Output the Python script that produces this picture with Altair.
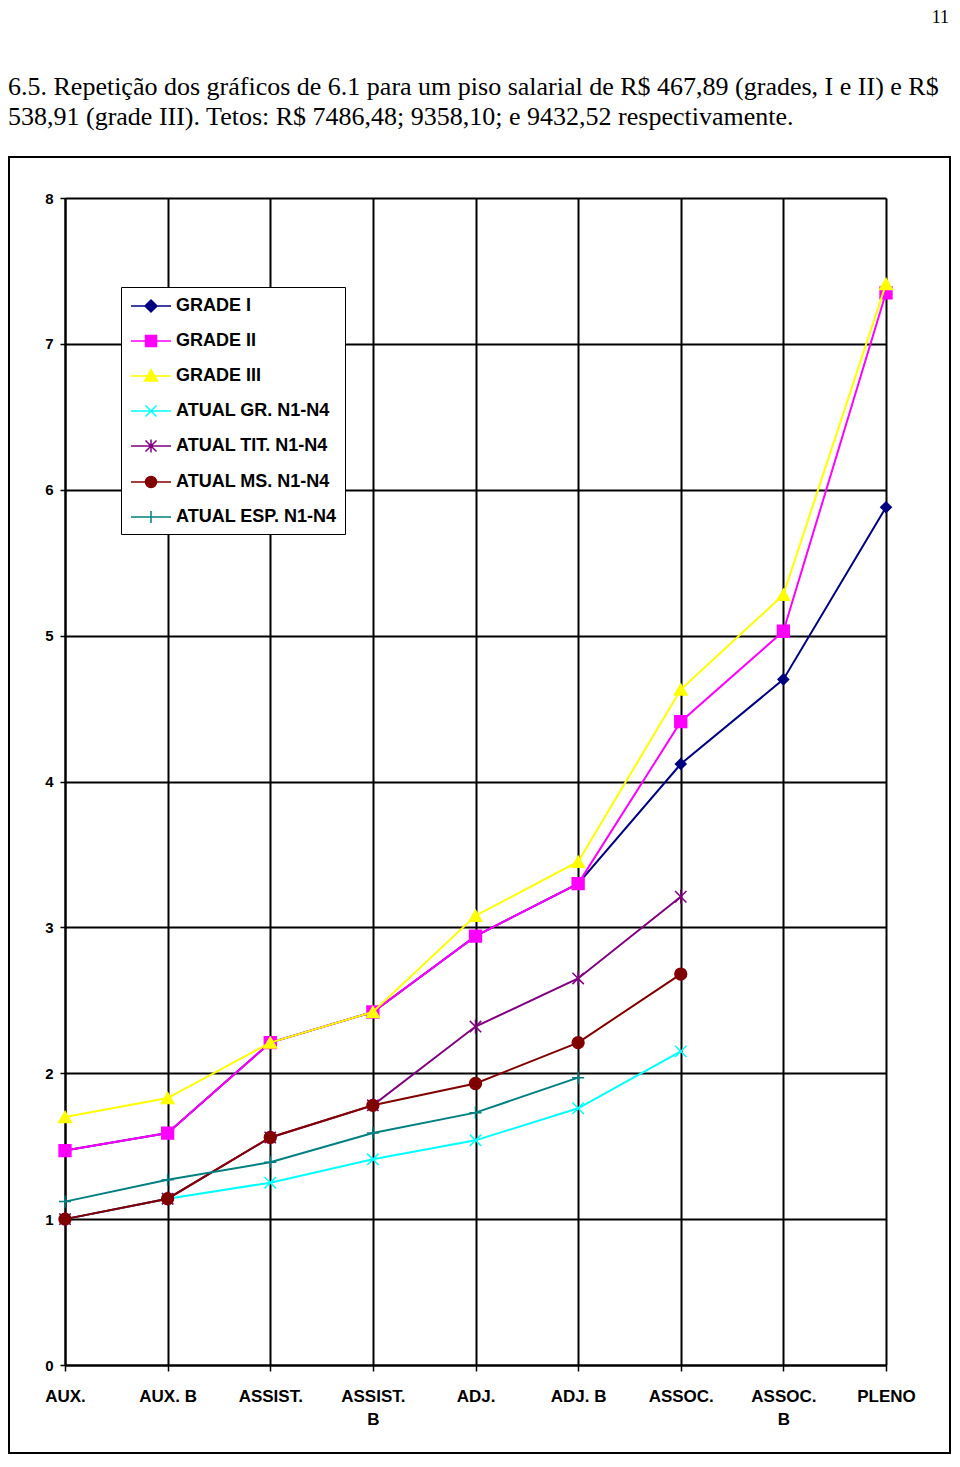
import altair as alt
import pandas as pd

categories = ["AUX.", "AUX. B", "ASSIST.", "ASSIST. B", "ADJ.", "ADJ. B",
              "ASSOC.", "ASSOC. B", "PLENO"]
series_names = ["GRADE I", "GRADE II", "GRADE III", "ATUAL GR. N1-N4",
                "ATUAL TIT. N1-N4", "ATUAL MS. N1-N4", "ATUAL ESP. N1-N4"]
grade_1 = [1.47, 1.59, 2.21, 2.42, 2.94, 3.30, 4.12, 4.70, 5.88]
grade_2 = [1.47, 1.59, 2.21, 2.42, 2.94, 3.30, 4.41, 5.03, 7.35]
grade_3 = [1.70, 1.83, 2.21, 2.42, 3.08, 3.45, 4.63, 5.28, 7.41]
atual_gr = [1.00, 1.14, 1.25, 1.41, 1.54, 1.76, 2.15, None, None]
atual_tit = [1.00, 1.14, 1.56, 1.78, 2.32, 2.65, 3.21, None, None]
atual_ms = [1.00, 1.14, 1.56, 1.78, 1.93, 2.21, 2.68, None, None]
atual_esp = [1.12, 1.27, 1.39, 1.59, 1.73, 1.97, None, None, None]
y_ticks = [0, 1, 2, 3, 4, 5, 6, 7, 8]

title_line1 = ("6.5. Repetição dos gráficos de 6.1 para um piso salarial de "
               "R$ 467,89 (grades, I e II) e R$")
title_line2 = ("538,91 (grade III). Tetos: R$ 7486,48; 9358,10; e 9432,52 "
               "respectivamente.")
page_number = "11"

colors = ["#000080", "#FF00FF", "#FFFF00", "#00FFFF", "#800080", "#800000", "#008080"]
all_series = [grade_1, grade_2, grade_3, atual_gr, atual_tit, atual_ms, atual_esp]

X_PATH = "M-1,-1L1,1M-1,1L1,-1"
STAR_PATH = "M-1,-1L1,1M-1,1L1,-1M0,-1.25L0,1.25"
PLUS_PATH = "M-1.1,0L1.1,0M0,-1.1L0,1.1"
point_shapes = ["diamond", "square", "triangle-up", X_PATH, STAR_PATH, "circle", PLUS_PATH]
point_sizes = [110, 140, 160, 130, 130, 140, 120]

LINE = "M-2,0L2,0"
legend_shapes = [
    LINE + "M0,-0.6L0.6,0L0,0.6L-0.6,0Z",
    LINE + "M-0.55,-0.55L0.55,-0.55L0.55,0.55L-0.55,0.55Z",
    LINE + "M0,-0.65L0.65,0.5L-0.65,0.5Z",
    LINE + "M-0.55,-0.55L0.55,0.55M-0.55,0.55L0.55,-0.55",
    LINE + "M-0.55,-0.55L0.55,0.55M-0.55,0.55L0.55,-0.55M0,-0.65L0,0.65",
    LINE + "M0.55,0A0.55,0.55 0 1,1 -0.55,0A0.55,0.55 0 1,1 0.55,0Z",
    LINE + "M0,-0.6L0,0.6",
]

rows = []
for name, vals in zip(series_names, all_series):
    for c, v in zip(categories, vals):
        if v is not None:
            rows.append({"cat": c, "val": v, "serie": name})
df = pd.DataFrame(rows)

FONT = "Liberation Sans"
label_expr = ("datum.label == 'ASSIST. B' ? ['ASSIST.', 'B'] : "
              "datum.label == 'ASSOC. B' ? ['ASSOC.', 'B'] : datum.label")

x_enc = alt.X("cat:N", sort=categories,
              scale=alt.Scale(type="point", padding=0, domain=categories),
              axis=alt.Axis(title=None, labelAngle=0, grid=True, gridColor="black",
                            gridWidth=2, gridOpacity=1, domainColor="black",
                            domainWidth=2, tickColor="black", tickSize=6,
                            tickWidth=1.5, labelFont=FONT, labelFontWeight="bold",
                            labelFontSize=17, labelColor="black", labelPadding=17,
                            labelLineHeight=23, labelExpr=label_expr))
y_enc = alt.Y("val:Q", scale=alt.Scale(domain=[0, 8], nice=False, zero=True),
              axis=alt.Axis(title=None, values=y_ticks, grid=True, gridColor="black",
                            gridWidth=2, gridOpacity=1, domainColor="black",
                            domainWidth=2, tickColor="black", tickSize=5,
                            tickWidth=1.5, labelFont=FONT, labelFontWeight="bold",
                            labelFontSize=15, labelColor="black", labelPadding=7,
                            format="d"))

layers = []
one = alt.Data(values=[{}])
frame = alt.Chart(one).mark_rect(fillOpacity=0, stroke="black", strokeWidth=2).encode(
    x=alt.value(-56), x2=alt.value(885), y=alt.value(-41), y2=alt.value(1255))
layers.append(frame)

for name, col, shp, sz in zip(series_names, colors, point_shapes, point_sizes):
    sub = df[df["serie"] == name]
    layers.append(alt.Chart(sub).mark_line(color=col, strokeWidth=2).encode(x=x_enc, y=y_enc))
    layers.append(alt.Chart(sub).mark_point(shape=shp, fill=col, stroke=col, filled=True,
                                            size=sz, strokeWidth=1.5, opacity=1)
                  .encode(x=x_enc, y=y_enc))

legend = alt.Legend(title=None, orient="none", legendX=56, legendY=89,
                    fillColor="white", strokeColor="black", padding=8,
                    symbolSize=400, symbolStrokeWidth=1.5, symbolOpacity=1,
                    symbolOffset=11, labelOffset=14, rowPadding=15,
                    labelFont=FONT, labelFontWeight="bold", labelFontSize=18,
                    labelColor="black", labelLimit=300)
legend_layer = alt.Chart(df).mark_point(filled=True, size=0, opacity=0).encode(
    x=x_enc, y=y_enc,
    fill=alt.Fill("serie:N", scale=alt.Scale(domain=series_names, range=colors), legend=legend),
    stroke=alt.Stroke("serie:N", scale=alt.Scale(domain=series_names, range=colors), legend=legend),
    shape=alt.Shape("serie:N", scale=alt.Scale(domain=series_names, range=legend_shapes), legend=legend),
)
layers.append(legend_layer)

txt1 = alt.Chart(one).mark_text(font="Liberation Serif", fontSize=26, align="left",
                                baseline="middle", color="black").encode(
    x=alt.value(-57), y=alt.value(-111), text=alt.value(title_line1))
txt2 = alt.Chart(one).mark_text(font="Liberation Serif", fontSize=26, align="left",
                                baseline="middle", color="black").encode(
    x=alt.value(-57), y=alt.value(-81), text=alt.value(title_line2))
txt3 = alt.Chart(one).mark_text(font="Liberation Serif", fontSize=18, align="right",
                                baseline="top", color="black").encode(
    x=alt.value(884), y=alt.value(-189), text=alt.value(page_number))
layers += [txt1, txt2, txt3]

chart = alt.layer(*layers).properties(
    width=821, height=1167,
    autosize=alt.AutoSizeParams(type="none"),
    padding={"left": 57, "top": 190, "right": 66, "bottom": 90},
).configure_view(stroke=None).configure(background="white")

chart.save("out.html", embed_options={"renderer": "svg", "actions": False})
